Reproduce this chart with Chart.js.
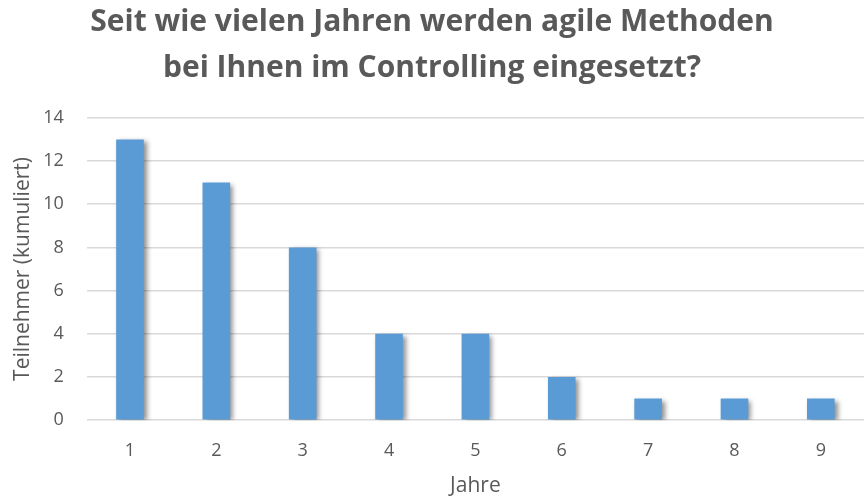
<!DOCTYPE html>
<html><head><meta charset="utf-8">
<script src="https://cdn.jsdelivr.net/npm/chart.js@4"></script>
<style>html,body{margin:0;padding:0;background:#fff}#wrap{width:864px;height:500px}</style>
</head><body><div id="wrap"><canvas id="c" width="864" height="500"></canvas></div>
<script>
const categories = ['1','2','3','4','5','6','7','8','9'];
const participants = [13, 11, 8, 4, 4, 2, 1, 1, 1];
const titleLines = ['Seit wie vielen Jahren werden agile Methoden', 'bei Ihnen im Controlling eingesetzt?'];
const xTitle = 'Jahre';
const yTitle = 'Teilnehmer (kumuliert)';

const shadowPlugin = {
  id: 'barShadow',
  beforeDatasetsDraw(chart) {
    const ctx = chart.ctx;
    ctx.save();
    ctx.shadowColor = 'rgba(0,0,0,0.45)';
    ctx.shadowBlur = 5;
    ctx.shadowOffsetX = 3;
    ctx.shadowOffsetY = 2;
  },
  afterDatasetsDraw(chart) { chart.ctx.restore(); }
};

const grey = '#595959';
new Chart(document.getElementById('c'), {
  type: 'bar',
  data: { labels: categories, datasets: [{ data: participants, backgroundColor: '#5B9BD5', borderWidth: 0, barPercentage: 0.32, categoryPercentage: 1 }] },
  options: {
    responsive: false, animation: false,
    layout: { padding: { left: 0, right: 0, top: 0, bottom: 1 } },
    plugins: {
      legend: { display: false }, tooltip: { enabled: false },
      title: { display: true, text: titleLines, color: grey, font: { family: 'Open Sans', size: 30, weight: 'bold', lineHeight: 1.53 }, padding: { top: 0, bottom: 26 } }
    },
    scales: {
      x: {
        grid: { display: false, drawTicks: false }, border: { display: false },
        ticks: { color: grey, font: { family: 'Open Sans', size: 18 }, padding: 20 },
        title: { display: true, text: xTitle, color: grey, font: { family: 'Open Sans', size: 21 }, padding: { top: -8, bottom: 0 } }
      },
      y: {
        min: 0, max: 14,
        grid: { color: '#d9d9d9', lineWidth: 1.5, drawTicks: false }, border: { display: false },
        ticks: { stepSize: 2, color: grey, font: { family: 'Open Sans', size: 18 }, padding: 23 },
        title: { display: true, text: yTitle, color: grey, font: { family: 'Open Sans', size: 21 }, padding: { top: 10, bottom: -15 } }
      }
    }
  },
  plugins: [shadowPlugin]
});
</script></body></html>
